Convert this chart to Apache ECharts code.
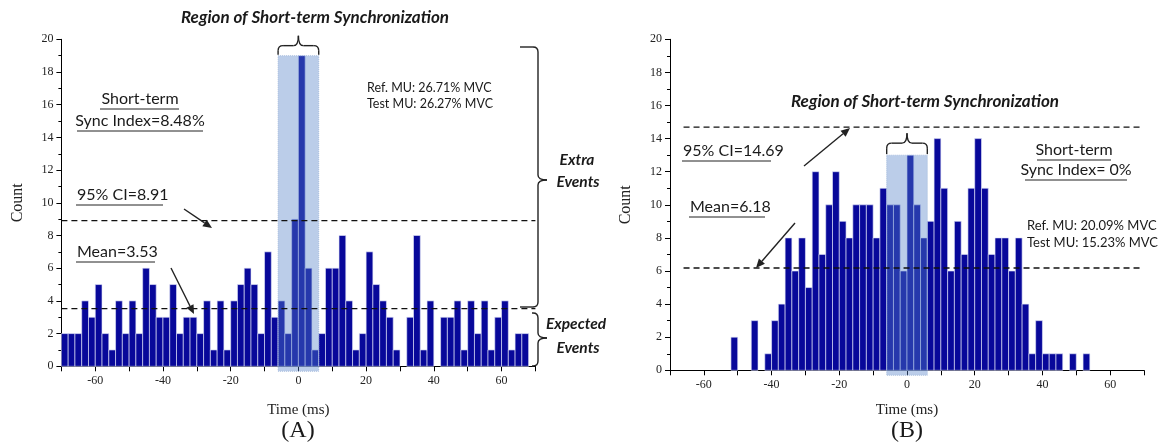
<!DOCTYPE html>
<html><head><meta charset="utf-8">
<script src="https://cdn.jsdelivr.net/npm/echarts@6/dist/echarts.min.js"></script>
<style>html,body{margin:0;padding:0;background:#fff}#c{width:1166px;height:443px}</style>
</head><body><div id="c"></div>
<script>
// ---- data ----
const BIN_START = -70;          // ms, left edge of first bin
const BIN_WIDTH = 2;            // ms
const countsA = [2,2,2,4,3,5,2,1,4,2,4,2,6,5,3,3,5,
                 2,3,3,2,4,1,4,1,4,5,6,5,2,7,3,4,2,9,
                 19,6,1,2,6,6,8,4,1,2,7,5,4,3,1,0,3,8,
                 1,4,0,3,3,4,1,4,2,4,1,3,4,1,2,2];
const countsB = [0,0,0,0,0,0,0,0,0,2,0,0,3,0,1,3,4,
                 8,6,8,5,12,7,10,12,9,8,10,10,10,8,11,10,10,6,
                 13,10,8,9,14,11,6,9,7,11,14,11,7,8,8,6,8,4,
                 1,3,1,1,1,0,1,0,1,0,0,0,0,0,0,0];
const xTickLabels = [-60,-40,-20,0,20,40,60];
const ciA = 8.91, meanA = 3.53;
const ciB = 14.69, meanB = 6.18;
const syncWindow = [-6, 6];     // ms
const peakA = 19, peakB = 13;

const SERIF = '"Liberation Serif","DejaVu Serif",serif';
const SANS = 'Lato,"Open Sans",sans-serif';
const BAR = '#08089a';

const chart = echarts.init(document.getElementById('c'));

function barRender(params, api) {
  const x0 = api.value(0), v = api.value(1);
  if (!v) return null;
  const p0 = api.coord([x0, v]);
  const p1 = api.coord([x0 + BIN_WIDTH, 0]);
  return {type:'rect', shape:{x:p0[0], y:p0[1], width:p1[0]-p0[0], height:p1[1]-p0[1]},
          style:{fill:BAR, stroke:'rgba(225,228,248,0.9)', lineWidth:0.7}};
}
function hlRender(params, api) {
  const p0 = api.coord([api.value(0), api.value(2)]);
  const p1 = api.coord([api.value(1), 0]);
  return {type:'rect', shape:{x:p0[0], y:p0[1], width:p1[0]-p0[0], height:p1[1]-p0[1] + 5},
          style:{fill:'rgba(85,130,200,0.40)', stroke:'rgba(150,175,215,0.9)', lineWidth:0.8, lineDash:[1,1]}};
}
function xAxis(g, gap) {
  return {type:'value', gridIndex:g, min:-70, max:70, interval:10,
    axisLine:{onZero:false, lineStyle:{color:'#000', width:1}},
    axisTick:{length:5, lineStyle:{color:'#000'}},
    axisLabel:{formatter:v => xTickLabels.includes(v) ? String(v) : '', fontFamily:SERIF, fontSize:12, color:'#222', margin:9},
    splitLine:{show:false},
    name:'Time (ms)', nameLocation:'middle', nameGap:gap,
    nameTextStyle:{fontFamily:SERIF, fontSize:15, color:'#222'}};
}
function yAxis(g) {
  return {type:'value', gridIndex:g, min:0, max:20, interval:2,
    axisLine:{show:true, onZero:false, lineStyle:{color:'#000', width:1}},
    axisTick:{show:true, length:5, lineStyle:{color:'#000'}},
    minorTick:{show:true, splitNumber:2, length:3, lineStyle:{color:'#000'}},
    splitLine:{show:false}, minorSplitLine:{show:false},
    axisLabel:{fontFamily:SERIF, fontSize:12, color:'#222', margin:8},
    name:'Count', nameLocation:'middle', nameGap:36, nameRotate:90,
    nameTextStyle:{fontFamily:SERIF, fontSize:16, color:'#222'}};
}
function dashed(g, val, x1, x2) {
  return {type:'line', xAxisIndex:g, yAxisIndex:g, data:[[x1, val],[x2, val]], symbol:'none', z:5,
    lineStyle:{color:'#111', width:1.3, type:[6,4]}, silent:true};
}
const toBins = arr => arr.map((v, i) => [BIN_START + i * BIN_WIDTH, v]);

chart.setOption({
  animation:false,
  grid:[{left:61.4, top:39.3, width:474, height:327}, {left:670, top:39.3, width:474, height:331}],
  xAxis:[xAxis(0, 36), xAxis(1, 32)],
  yAxis:[yAxis(0), yAxis(1)],
  series:[
    {type:'custom', xAxisIndex:0, yAxisIndex:0, renderItem:barRender, data:toBins(countsA), encode:{x:0, y:1}, z:2},
    {type:'custom', xAxisIndex:0, yAxisIndex:0, renderItem:hlRender, data:[[syncWindow[0], syncWindow[1], peakA]], encode:{x:[0,1], y:2}, z:3, clip:false},
    dashed(0, ciA, -70, 70), dashed(0, meanA, -70, 70),
    {type:'custom', xAxisIndex:1, yAxisIndex:1, renderItem:barRender, data:toBins(countsB), encode:{x:0, y:1}, z:2},
    {type:'custom', xAxisIndex:1, yAxisIndex:1, renderItem:hlRender, data:[[syncWindow[0], syncWindow[1], peakB]], encode:{x:[0,1], y:2}, z:3, clip:false},
    dashed(1, ciB, -66, 69), dashed(1, meanB, -66, 69)
  ]
});

// ---- annotations ----
const px = (g, pt) => chart.convertToPixel({gridIndex:g}, pt);
const INK = '#1a1a1a';
function text(t, x, y, font, align) {
  return {type:'text', z:10, style:{text:t, x, y, font, fill:INK, align:align||'left', verticalAlign:'middle', textAlign:align||'left', textVerticalAlign:'middle'}};
}
function line(x1, y1, x2, y2, w) {
  return {type:'line', z:10, shape:{x1, y1, x2, y2}, style:{stroke:'#222', lineWidth:w||1.2}};
}
function curve(x1, y1, cx, cy, x2, y2) {
  return {type:'bezierCurve', z:10, shape:{x1, y1, x2, y2, cpx1:cx, cpy1:cy}, style:{stroke:'#222', lineWidth:1.4, fill:null}};
}
function arrow(x1, y1, x2, y2) {
  const a = Math.atan2(y2 - y1, x2 - x1), L = 9, H = 4;
  const bx = x2 - L*Math.cos(a), by = y2 - L*Math.sin(a);
  return {type:'group', children:[
    line(x1, y1, bx, by, 1.4),
    {type:'polygon', z:10, shape:{points:[[x2,y2],[bx + H*Math.sin(a), by - H*Math.cos(a)],[bx - H*Math.sin(a), by + H*Math.cos(a)]]}, style:{fill:'#222'}}
  ]};
}
// horizontal curly brace opening downward, tip up
function hBrace(x1, x2, y, tipY, armY) {
  const xm = (x1 + x2) / 2, d = 5;
  return {type:'group', children:[
    line(x1, armY, x1, y + d, 1.4),
    curve(x1, y + d, x1, y, x1 + d, y),
    line(x1 + d, y, xm - d, y, 1.4),
    curve(xm - d, y, xm, y, xm, tipY),
    curve(xm, tipY, xm, y, xm + d, y),
    line(xm + d, y, x2 - d, y, 1.4),
    curve(x2 - d, y, x2, y, x2, y + d),
    line(x2, y + d, x2, armY, 1.4)
  ]};
}
// vertical curly brace, tip pointing right
function vBrace(x, y1, y2, ym, hook, tip) {
  const d = 5;
  return {type:'group', children:[
    line(x - hook, y1, x - d, y1, 1.4),
    curve(x - d, y1, x, y1, x, y1 + d),
    line(x, y1 + d, x, ym - d, 1.4),
    curve(x, ym - d, x, ym, x + tip, ym),
    curve(x + tip, ym, x, ym, x, ym + d),
    line(x, ym + d, x, y2 - d, 1.4),
    curve(x, y2 - d, x, y2, x - d, y2),
    line(x - d, y2, x - hook, y2, 1.4)
  ]};
}

const aL = px(0, [syncWindow[0], peakA]), aR = px(0, [syncWindow[1], peakA]);
const bL = px(1, [syncWindow[0], peakB]), bR = px(1, [syncWindow[1], peakB]);
const TITLE = 'italic bold 17px ' + SANS;
const ANN = '16px ' + SANS;
const SMALL = '12.5px ' + SANS;
const BOLDI = 'italic bold 15.5px ' + SANS;

chart.setOption({graphic:[
  // Panel A
  text('Region of Short-term Synchronization', 315, 18, TITLE, 'center'),
  hBrace(aL[0], aR[0], aL[1] - 10, aL[1] - 20, aL[1] - 1),
  text('Ref. MU: 26.71% MVC', 367, 88, SMALL),
  text('Test MU: 26.27% MVC', 367, 104, SMALL),
  text('Short-term', 140, 99, ANN, 'center'),
  line(100, 109, 179, 109, 1),
  text('Sync Index=8.48%', 140, 121, ANN, 'center'),
  line(77, 131, 203, 131, 1),
  text('95% CI=8.91', 77, 195, ANN),
  line(76, 205, 163, 205, 1),
  arrow(184, 209, 212, 228),
  text('Mean=3.53', 77, 252, ANN),
  line(76, 262, 155, 262, 1),
  arrow(171, 268, 194, 314),
  vBrace(538, 47, 307, 180, 18, 9),
  vBrace(538, 313, 366, 338, 6, 9),
  text('Extra', 577, 160, BOLDI, 'center'),
  text('Events', 578, 182, BOLDI, 'center'),
  text('Expected', 576, 324, BOLDI, 'center'),
  text('Events', 578, 348, BOLDI, 'center'),
  text('(A)', 298, 431, '24px ' + SERIF, 'center'),
  // Panel B
  text('Region of Short-term Synchronization', 925, 102, TITLE, 'center'),
  hBrace(bL[0], bR[0], bL[1] - 12, bL[1] - 22, bL[1] - 1),
  text('95% CI=14.69', 683, 151, ANN),
  line(682, 161, 771, 161, 1),
  arrow(804, 166, 850, 128),
  text('Mean=6.18', 690, 207, ANN),
  line(689, 217, 765, 217, 1),
  arrow(795, 223, 756, 268),
  text('Short-term', 1074, 150, ANN, 'center'),
  line(1037, 160, 1111, 160, 1),
  text('Sync Index= 0%', 1076, 170, ANN, 'center'),
  line(1025, 180, 1127, 180, 1),
  text('Ref. MU: 20.09% MVC', 1027, 226, '13px ' + SANS),
  text('Test MU: 15.23% MVC', 1027, 243, '13px ' + SANS),
  text('(B)', 907, 431, '24px ' + SERIF, 'center')
]});
</script></body></html>
